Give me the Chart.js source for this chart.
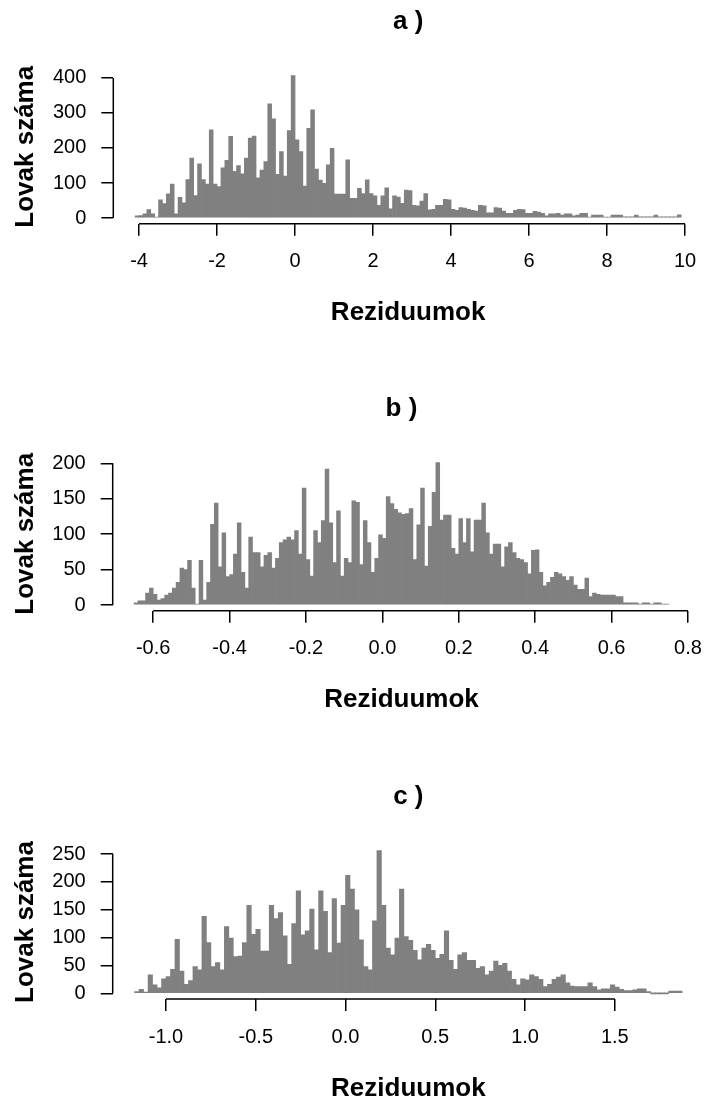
<!DOCTYPE html>
<html>
<head>
<meta charset="utf-8">
<script src="https://cdn.jsdelivr.net/npm/chart.js@4.4.1/dist/chart.umd.min.js"></script>
<style>
  html, body { margin: 0; padding: 0; background: #fff; }
  body { width: 716px; height: 1099px; overflow: hidden; position: relative; }
  canvas { position: absolute; left: 0; }
</style>
</head>
<body>
<canvas id="histA" width="716" height="340" style="top:0px"></canvas>
<canvas id="histB" width="716" height="370" style="top:355px"></canvas>
<canvas id="histC" width="716" height="370" style="top:740px"></canvas>
<script>
const xAxisTitle = 'Reziduumok';
const yAxisTitle = 'Lovak száma';

// a)
const titleA = 'a )';
const binStartA = -4.1;
const binWidthA = 0.1;
const countsA = [
    6, 7, 12, 24, 12, 2, 52, 41, 69, 97,
    12, 59, 43, 110, 171, 64, 155, 110, 97, 252,
    97, 90, 143, 165, 233, 133, 150, 126, 171, 228,
    234, 115, 137, 161, 326, 283, 125, 190, 120, 250,
    407, 223, 190, 91, 256, 309, 140, 108, 99, 152,
    199, 68, 68, 68, 166, 56, 56, 85, 70, 109,
    70, 63, 36, 63, 86, 26, 63, 60, 42, 80,
    78, 36, 35, 48, 70, 23, 25, 36, 36, 53,
    52, 25, 22, 30, 28, 25, 22, 20, 36, 35,
    15, 15, 30, 28, 20, 13, 13, 22, 25, 24,
    13, 13, 19, 17, 13, 6, 12, 12, 13, 8,
    12, 12, 6, 8, 13, 13, 1, 8, 8, 8,
    2, 2, 8, 8, 8, 3, 3, 3, 8, 3,
    3, 3, 3, 8, 3, 3, 3, 3, 3, 9
];
const xTicksA = [-4, -2, 0, 2, 4, 6, 8, 10];
const yTicksA = [0, 100, 200, 300, 400];

// b)
const titleB = 'b )';
const binStartB = -0.65;
const binWidthB = 0.01;
const countsB = [
    3, 6, 6, 17, 24, 15, 7, 9, 14, 17,
    24, 32, 52, 50, 63, 24, 1, 63, 7, 32,
    114, 144, 54, 102, 40, 43, 72, 116, 46, 24,
    96, 74, 74, 54, 70, 74, 52, 66, 88, 92,
    96, 92, 105, 72, 165, 64, 41, 105, 88, 119,
    192, 116, 60, 133, 41, 66, 60, 147, 145, 57,
    119, 88, 46, 66, 99, 94, 153, 143, 135, 130,
    128, 129, 136, 64, 113, 165, 55, 111, 159, 201,
    120, 127, 127, 80, 72, 122, 88, 122, 75, 120,
    120, 144, 102, 72, 86, 86, 54, 82, 88, 74,
    66, 64, 60, 44, 77, 78, 46, 27, 32, 39,
    46, 44, 40, 35, 40, 28, 22, 22, 38, 12,
    17, 15, 14, 14, 14, 14, 12, 12, 3, 3,
    3, 3, 1, 3, 3, 1, 3, 3, 1, 1
];
const xTicksB = [-0.6, -0.4, -0.2, 0, 0.2, 0.4, 0.6, 0.8];
const yTicksB = [0, 50, 100, 150, 200];

// c)
const titleC = 'c )';
const binStartC = -1.175;
const binWidthC = 0.025;
const countsC = [
    3, 7, 2, 33, 15, 10, 26, 30, 43, 97,
    40, 16, 23, 48, 42, 138, 91, 48, 55, 42,
    120, 99, 66, 67, 91, 158, 106, 115, 76, 76,
    158, 134, 145, 103, 52, 125, 184, 105, 112, 151,
    78, 184, 147, 73, 170, 90, 158, 212, 187, 150,
    96, 48, 42, 130, 256, 158, 81, 69, 99, 187,
    102, 95, 77, 60, 81, 88, 77, 63, 70, 112,
    59, 43, 69, 73, 59, 59, 45, 48, 33, 40,
    58, 50, 54, 40, 25, 15, 26, 24, 33, 30,
    25, 12, 16, 25, 29, 33, 19, 13, 12, 12,
    12, 19, 12, 6, 8, 8, 15, 11, 7, 5,
    5, 6, 8, 8, 3, 0, 0, 0, 0, 4, 4, 4
];
const xTicksC = [-1.0, -0.5, 0, 0.5, 1.0, 1.5];
const yTicksC = [0, 50, 100, 150, 200, 250];

const FONT = "'Liberation Sans', Arial, Helvetica, sans-serif";
const TICK_SIZE = 20;
const LABEL_SIZE = 26;
const BAR_COLOR = '#808080';

Chart.defaults.font.family = FONT;
Chart.defaults.color = '#000';

// R draws the axis line only from the first to the last tick
const rAxisLines = {
    id: 'rAxisLines',
    afterDraw(chart) {
        const ctx = chart.ctx;
        const xs = chart.scales.x;
        const ys = chart.scales.y;
        ctx.save();
        ctx.strokeStyle = '#000';
        ctx.lineWidth = 1.5;
        ctx.beginPath();
        ctx.moveTo(xs.getPixelForValue(xs.ticks[0].value), xs.top);
        ctx.lineTo(xs.getPixelForValue(xs.ticks[xs.ticks.length - 1].value), xs.top);
        ctx.moveTo(ys.right, ys.getPixelForValue(ys.ticks[0].value));
        ctx.lineTo(ys.right, ys.getPixelForValue(ys.ticks[ys.ticks.length - 1].value));
        ctx.stroke();
        ctx.restore();
    }
};

function toBins(start, width, counts){
    return counts.map((c, i) => ({ x: start + (i + 0.5) * width, y: c }));
}

function buildHistogram(htmlCanvasId, p){
    const canvas = document.getElementById(htmlCanvasId);
    const top = parseFloat(canvas.style.top);
    const h = canvas.height;
    const L = p.layout;

    const first = p.binStart;
    const last = p.binStart + p.counts.length * p.binWidth;
    const xPad = (last - first) * 0.04;
    const yMax = Math.max(...p.counts);

    const titleLH = LABEL_SIZE * 1.2;
    const titlePadTop = L.titleCenter - top - titleLH / 2;
    const titlePadBottom = L.plotTop - top - titlePadTop - titleLH;

    const tickGrid = {
        drawOnChartArea: false,
        drawTicks: true,
        tickLength: 12,
        color: '#000',
        lineWidth: 1.5,
        offset: false
    };

    new Chart(canvas, {
        type: 'bar',
        data: {
            datasets: [{
                data: toBins(p.binStart, p.binWidth, p.counts),
                backgroundColor: BAR_COLOR,
                borderWidth: 0,
                barPercentage: 1,
                categoryPercentage: 1,
                minBarLength: 1
            }]
        },
        options: {
            responsive: false,
            animation: false,
            devicePixelRatio: 1,
            layout: { padding: { left: 0, right: 716 - L.plotRight, top: 0, bottom: 0 } },
            plugins: {
                legend: { display: false },
                tooltip: { enabled: false },
                title: {
                    display: true,
                    text: p.title,
                    fullSize: false,
                    color: '#000',
                    font: { size: LABEL_SIZE, weight: 'bold' },
                    padding: { top: titlePadTop, bottom: titlePadBottom }
                }
            },
            scales: {
                x: {
                    type: 'linear',
                    min: first - xPad,
                    max: last + xPad,
                    offset: false,
                    afterBuildTicks: s => { s.ticks = p.xTicks.map(v => ({ value: v })); },
                    afterFit: s => { s.height = top + h - L.plotBottom; },
                    ticks: {
                        autoSkip: false,
                        maxRotation: 0,
                        padding: 14,
                        color: '#000',
                        font: { size: TICK_SIZE },
                        callback: p.xFormat
                    },
                    grid: tickGrid,
                    border: { display: false },
                    title: {
                        display: true,
                        text: xAxisTitle,
                        color: '#000',
                        font: { size: LABEL_SIZE, weight: 'bold' },
                        padding: { top: 0, bottom: top + h - L.xTitleCenter - titleLH / 2 }
                    }
                },
                y: {
                    min: -0.04 * yMax,
                    max: 1.04 * yMax,
                    afterBuildTicks: s => { s.ticks = p.yTicks.map(v => ({ value: v })); },
                    afterFit: s => { s.width = L.plotLeft; },
                    ticks: {
                        padding: 15,
                        color: '#000',
                        font: { size: TICK_SIZE }
                    },
                    grid: tickGrid,
                    border: { display: false },
                    title: {
                        display: true,
                        text: yAxisTitle,
                        color: '#000',
                        font: { size: LABEL_SIZE, weight: 'bold' },
                        padding: { top: 10.4, bottom: 0 }
                    }
                }
            }
        },
        plugins: [rAxisLines]
    });
}

buildHistogram('histA', {
    title: titleA, binStart: binStartA, binWidth: binWidthA, counts: countsA,
    xTicks: xTicksA, yTicks: yTicksA, xFormat: v => String(v),
    layout: { titleCenter: 21.7, plotTop: 69.8, plotBottom: 223.7, plotLeft: 113.3, plotRight: 703, xTitleCenter: 313.3 }
});

buildHistogram('histB', {
    title: titleB, binStart: binStartB, binWidth: binWidthB, counts: countsB,
    xTicks: xTicksB, yTicks: yTicksB, xFormat: v => v.toFixed(1),
    layout: { titleCenter: 409, plotTop: 456.9, plotBottom: 610.7, plotLeft: 112.7, plotRight: 705.4, xTitleCenter: 700.3 }
});

buildHistogram('histC', {
    title: titleC, binStart: binStartC, binWidth: binWidthC, counts: countsC,
    xTicks: xTicksC, yTicks: yTicksC, xFormat: v => v.toFixed(1),
    layout: { titleCenter: 797, plotTop: 845, plotBottom: 999, plotLeft: 112.7, plotRight: 704, xTitleCenter: 1088.6 }
});
</script>
</body>
</html>
